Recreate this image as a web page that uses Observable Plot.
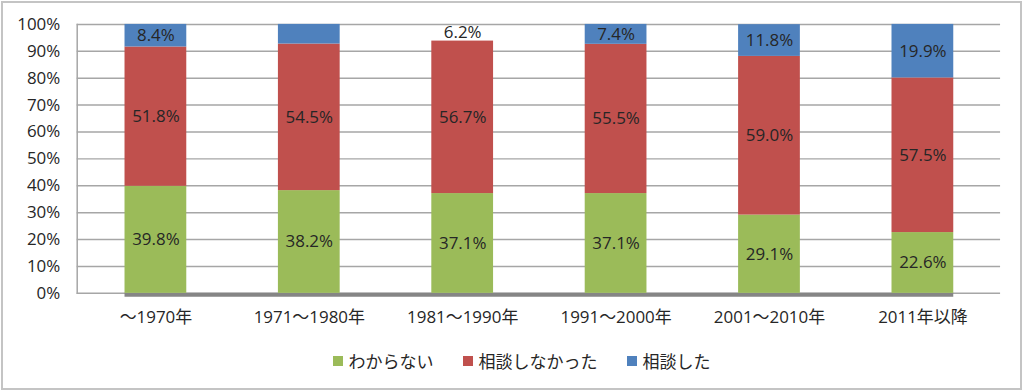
<!DOCTYPE html>
<html>
<head>
<meta charset="utf-8">
<script src="https://cdn.jsdelivr.net/npm/d3@7"></script>
<script src="https://cdn.jsdelivr.net/npm/@observablehq/plot@0.6"></script>
<style>
  html, body { margin: 0; padding: 0; background: #fff; }
  #frame {
    position: relative; width: 1021px; height: 389px; box-sizing: border-box;
    border: 2px solid #c4c4c4; margin: 1px 0 0 1px; overflow: hidden;
    font-family: "Open Sans", "Noto Sans CJK JP", sans-serif;
  }
  #chart { position: absolute; left: -3px; top: -3px; }
  #legend {
    position: absolute; left: 0; right: 0; top: 346px;
    display: flex; justify-content: center; gap: 29px;
    font-family: "Noto Sans CJK JP", sans-serif;
    font-size: 17px; line-height: 24px; color: #262626; margin-left: 20px;
  }
  #legend span.item { display: inline-flex; align-items: center; gap: 6px; }
  #legend span.sw { width: 10px; height: 10px; display: inline-block; }
</style>
</head>
<body>
<div id="frame">
  <div id="chart"></div>
  <div id="legend"></div>
</div>
<script>
const categories = ["～1970年", "1971～1980年", "1981～1990年", "1991～2000年", "2001～2010年", "2011年以降"];
const series = ["わからない", "相談しなかった", "相談した"];
const colors = ["#9BBB59", "#C0504D", "#4F81BD"];
const unknown = [39.8, 38.2, 37.1, 37.1, 29.1, 22.6];
const notConsulted = [51.8, 54.5, 56.7, 55.5, 59.0, 57.5];
const consulted = [8.4, 7.3, 6.2, 7.4, 11.8, 19.9];
// labels shown on the chart (the 1971～1980 "相談した" label is not shown in the original)
const consultedLabels = ["8.4%", "", "6.2%", "7.4%", "11.8%", "19.9%"];
// the 1981～1990 "相談した" segment is not drawn in the original
const hiddenSegments = [["1981～1990年", "相談した"]];
const yTicks = [0, 10, 20, 30, 40, 50, 60, 70, 80, 90, 100];

const rows = [];
categories.forEach((c, i) => {
  rows.push({cat: c, series: series[0], value: unknown[i], label: unknown[i].toFixed(1) + "%"});
  rows.push({cat: c, series: series[1], value: notConsulted[i], label: notConsulted[i].toFixed(1) + "%"});
  rows.push({cat: c, series: series[2], value: consulted[i], label: consultedLabels[i]});
});
const isHidden = d => hiddenSegments.some(([c, s]) => c === d.cat && s === d.series);
const font = '"Open Sans", "Noto Sans CJK JP", sans-serif';

const chart = Plot.plot({
  width: 1024,
  height: 343,
  marginTop: 24,
  marginBottom: 49,
  marginLeft: 77,
  marginRight: 20,
  style: {fontFamily: font, fontSize: "17px", color: "#262626", background: "transparent"},
  x: {domain: categories, paddingInner: 0.6, paddingOuter: 0.3, label: null},
  y: {domain: [0, 100], label: null},
  color: {domain: series, range: colors},
  marks: [
    Plot.gridY(yTicks, {stroke: "#a6a6a6", strokeOpacity: 1, strokeWidth: 1.5}),
    Plot.ruleY([0], {x1: () => categories[0], x2: () => categories[categories.length - 1], stroke: "#858585", strokeWidth: 4, dy: 1.5}),
    Plot.frame({anchor: "left", stroke: "#a6a6a6", strokeWidth: 1.5}),
    Plot.barY(rows, Plot.stackY({x: "cat", y: "value", fill: "series", filter: d => !isHidden(d)})),
    Plot.text(rows, Plot.stackY({x: "cat", y: "value", text: "label", fill: "#262626", fontSize: 17})),
    Plot.axisY(yTicks, {tickSize: 0, tickPadding: 17, tickFormat: d => d + "%", fontSize: 17, fill: "#262626"}),
    Plot.axisX({tickSize: 0, tickPadding: 18, fontSize: 17, fill: "#262626"})
  ]
});
document.getElementById("chart").appendChild(chart);

const legend = document.getElementById("legend");
series.forEach((s, i) => {
  const item = document.createElement("span");
  item.className = "item";
  const sw = document.createElement("span");
  sw.className = "sw";
  sw.style.background = colors[i];
  item.appendChild(sw);
  item.appendChild(document.createTextNode(s));
  legend.appendChild(item);
});
</script>
</body>
</html>
